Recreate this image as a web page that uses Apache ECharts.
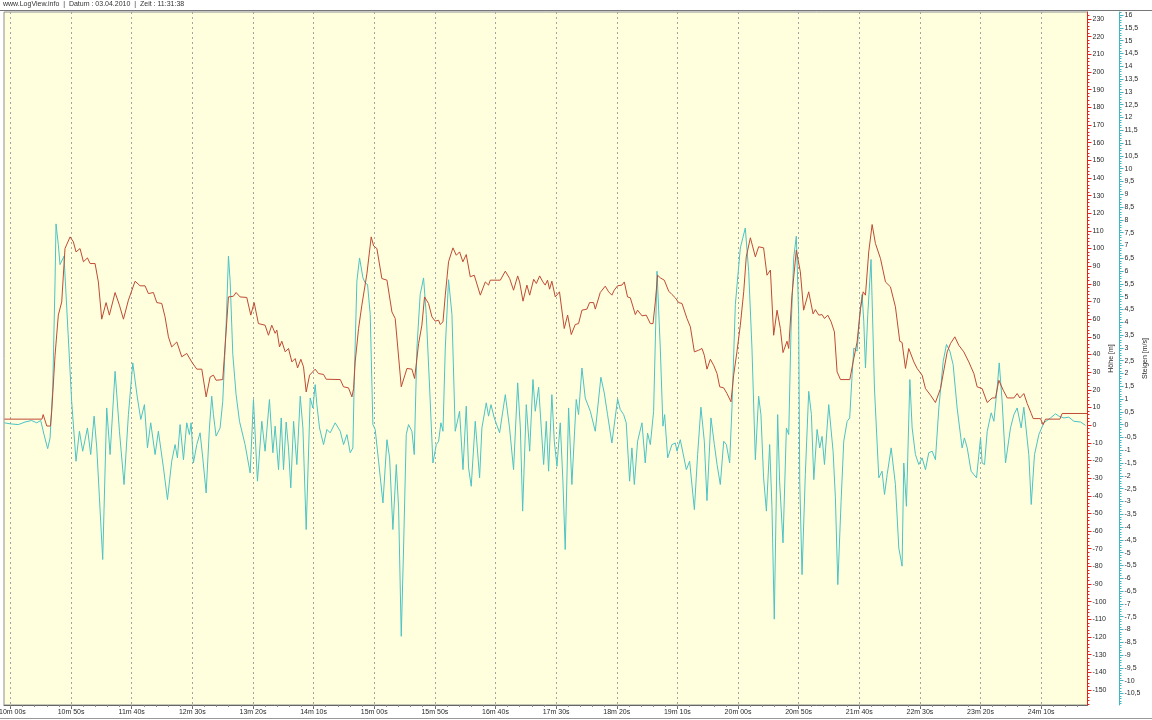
<!DOCTYPE html>
<html><head><meta charset="utf-8">
<script src="https://cdn.jsdelivr.net/npm/echarts@6/dist/echarts.min.js"></script>
<style>html,body{margin:0;padding:0;background:#fff}#c{width:1152px;height:720px}</style>
</head><body><div id="c"></div>
<script>
// ---- data (time in seconds) ----
const altTimes = [595,626,627,630,633,634,636.8,639.5,642.3,645,649.2,651.9,654.1,657.4,660.2,663.5,665.7,669.8,672.5,675.3,678.9,681.6,686.3,689.9,693.2,697.3,702.8,706.9,711,713.8,717.9,720.7,724.8,727.5,730.3,733,737.2,741.3,745.4,749.5,753.7,757.8,761.4,764.7,767.4,769.6,775.1,776.5,779.8,783.9,786.1,789.4,794.9,798.2,801,804.5,810,812.8,815.5,818.3,819.7,821.9,823.8,826.6,829.3,832.1,834.8,836.8,839.5,841.7,843.9,846.7,851.3,854.1,858.2,860.4,872,874.7,878.8,881.6,883,884.3,887.1,889.8,894,897.5,899.5,902.2,906.3,910.5,914.6,917.3,922.3,927,931.1,933.3,936.6,939.3,941.5,944.8,947.6,950.3,953.1,954.4,956.7,958.6,961.3,964.9,967.7,970.4,973.1,975.9,979.2,982.5,987.5,991.6,994.3,995.7,1004,1008.1,1011.7,1014.9,1018.3,1019.9,1022.7,1025.9,1028.2,1031.5,1033.7,1036.4,1039.1,1041,1042.9,1044.6,1046.5,1049.3,1052.8,1056.7,1059.5,1062.5,1065.8,1068.5,1071.3,1075.4,1077.6,1080.9,1082.3,1086.4,1090.5,1093.3,1096,1097.9,1100.7,1104.3,1106.2,1108.9,1111.2,1115.3,1117.2,1120.8,1124.3,1127.7,1129.9,1131.8,1133.7,1135.9,1139.2,1142.8,1145.5,1148.3,1151,1153.8,1157.9,1160.7,1164,1167.5,1170.3,1172.2,1174.4,1177.2,1179.9,1182.7,1184.9,1188.2,1190.9,1194.2,1196.4,1199.1,1201.9,1204.7,1206.8,1210.2,1214.3,1217,1221.1,1223.9,1226.7,1229.4,1232.2,1234.9,1237.1,1240.4,1241.8,1244.5,1248.1,1251.4,1254.1,1258.3,1261.9,1263.8,1266.6,1269.3,1271.3,1274,1276.8,1279.5,1281.7,1284.5,1292.2,1294.9,1298.2,1301,1303.2,1305.1,1307.8,1310.6,1313.3,1317.5,1321.6,1325.7,1329.8,1333.4,1335.3,1338.1,1340.8,1345,1347.7,1351.8,1354.6,1358.7,1362.8,1367,1372.5,1375.2,1378.8,1382,1386.2,1390.3,1394.5,1397.2,1401.3,1405.5,1409.6,1412.3,1415.1,1418.7,1422,1427.5,1430.2,1432.4,1435.7,1438.5,1441.8,1443.4,1449.4,1451.6,1453.6,1465.4,1467.3,1488];
const altValues = [3.4,3.4,6,-0.5,-0.5,7.5,39.6,62.3,69.8,100,106.6,103.8,98.1,100,92.5,94.7,91.5,91.5,81.1,60,69.4,62.3,75.1,67.9,60,70.8,81.5,78.9,78.9,74.5,75.1,69.4,68.9,61.3,50,44.3,47.1,38.7,40.6,35.8,31.7,31.7,16,27.3,28.3,25.4,25.8,39.6,72.6,73,75.1,72.6,72.3,62.3,69.4,57.5,56.6,50.9,56.6,52,53.8,44.3,47.5,41.5,43.4,35.8,37.7,32.4,37.3,33,18.8,28.3,31.7,29.2,28.7,26,25.8,21.7,21.1,16,20.7,35.8,54.7,67.9,85.9,106.6,101.5,100,83,82.1,64.1,60.4,21.7,32.1,31.7,26.4,46.2,56.6,72.6,68.9,61.3,58.9,59.4,57,58.5,73.6,92.5,100.4,96.2,98.1,92.5,96.6,84,84.9,73.6,81.1,79.3,82.1,82.1,87.2,83,76.4,84.5,81.1,70.2,79.3,73.6,82.6,80.2,84.5,81.1,79.3,82.1,77,81.5,72.6,75.5,54.7,62.3,51.3,57,57.5,65.1,65.7,69.4,69.4,65.7,75.1,78.7,75.5,73.6,76.4,78.9,79.3,81.1,72.6,72.1,62.6,65.1,61.9,62.3,57.5,57.5,69.8,84.9,83.4,82.1,75.9,74,72.1,69.4,68.9,60.4,55.7,41.5,42.4,43.4,39.6,31.7,37.3,33.9,29.2,21.7,21.1,17.9,13.2,28.3,41.5,56.6,75.5,95.3,106.1,95.3,101,100.4,84.9,87.8,50.9,65.1,54.7,41.1,47.5,43.4,73.6,99.1,86.8,65.1,75.5,63,65.4,62.3,62.6,60.4,62.3,58.5,52.8,30.2,25.8,25.8,35.8,47.1,66,75.5,73.6,98.1,113.6,102.9,94.3,81.1,78.3,67,47.5,46.8,32.1,43.4,35.8,32.1,28.3,20.7,17,12.8,20.7,41.5,46.2,50,45.3,41.5,35.8,29.2,21.7,20.7,12.8,15.4,15.4,25.4,19.8,15.4,15.4,17.9,15.4,17.9,12.2,6.6,3.7,3.7,0.3,3.4,3.4,6.6,6.6];

const climbTimes = [595,599.7,606.5,612,617.5,621.7,625,627.7,630.7,632.7,634.9,636.8,637.6,639.5,640.9,644.2,650.5,654.1,656.9,659.6,663.5,666.2,669,671.2,673.4,676.1,679.4,682.2,686.3,689.9,693.7,697.3,700.9,704.7,707.5,710.5,713,715.7,719.3,722,726.2,729.5,733,735.8,737.7,739.9,742.7,745.4,747.6,749,750.9,753.7,756.4,758.6,761.4,764.1,766,767.4,769.6,772.9,775.1,777.9,779.8,781.2,783.4,786.1,788.9,793.5,797.7,800.4,803.7,807.3,810,813.6,816.4,818.3,821.1,823.3,825.2,827.4,829.3,831.2,833.5,836.2,839,841.2,843.9,847.2,849.4,851.3,852.7,854.9,858.2,861,863.7,867.8,872,874.7,877.5,880.2,882.4,883.5,885.7,887.9,890.7,892.6,894.5,896.7,898.9,900.8,903.6,907.2,910.5,912.7,915.4,918.2,920.1,922.3,924.2,926.4,928.3,931.1,933,935.2,937.9,940.7,942.9,945.7,948.4,951.2,953.1,955,956.7,958.6,961.3,964.1,966.8,970.4,973.2,975.9,977.8,980,983.3,986.9,988.8,992.4,994.3,996.3,999,1003.4,1008.1,1011.6,1014.9,1018.3,1020.5,1022.4,1025.4,1028.2,1030.9,1032.8,1035.6,1039.7,1041.9,1043.8,1046.5,1048.5,1050.7,1053.4,1055.6,1057.5,1060.3,1063,1066.6,1068.5,1071.3,1074,1078.2,1082.3,1086.9,1089.7,1092.4,1096,1100.7,1102.9,1105.7,1107.8,1110.6,1112.5,1114.5,1117.2,1120.8,1123.5,1125.4,1127.7,1130.4,1133.2,1135.9,1138.1,1139.5,1142,1145.5,1148.3,1149.7,1152.4,1157.4,1160.1,1164,1166.7,1169.4,1172.2,1174.4,1177.7,1180.5,1182.7,1185.4,1188.2,1190.4,1193.1,1195,1197.8,1201.9,1206,1208.8,1211.5,1214.3,1217,1218.9,1221.1,1223.4,1226.1,1228,1229.9,1232.7,1234.3,1237.1,1239.9,1241.8,1243.7,1245.9,1248.1,1250,1250.9,1252.8,1255.5,1258.3,1260.5,1262.5,1265.2,1267.4,1269.3,1271.3,1274.8,1278.4,1280.3,1282.3,1285,1287.2,1290,1292.1,1294.1,1295.5,1298.2,1300.4,1302.3,1303.7,1305.1,1307,1309.7,1312.5,1316.1,1318.8,1320.8,1323,1326.3,1329.8,1332.6,1335.3,1336.7,1338.9,1341.7,1343.6,1346.3,1349.1,1351.8,1354.6,1357.3,1360.1,1362.8,1365.6,1369.2,1371.9,1374.7,1377.4,1380.7,1384.8,1386.7,1389,1392.2,1396.7,1400,1401.3,1403.3,1405.5,1408.8,1411,1413.7,1415.4,1417.8,1420.6,1424.7,1427.5,1430.2,1433.5,1435.7,1439.8,1441.8,1444.5,1448.1,1452.2,1457.7,1461.8,1464.6,1468.7,1472.8,1477,1482.5,1486.6];
const climbValues = [0.07,0.03,0,0.1,0.16,0.07,0.16,-0.39,-0.94,-0.52,1.43,5.6,7.84,7.03,6.25,6.58,0.91,-1.43,-0.26,-1.04,-0.13,-1.17,0.33,-0.91,-2.86,-5.27,0.65,-1.17,2.08,-0.26,-2.34,0.39,2.41,1.04,0.2,0.78,-0.91,0.07,-1.17,-0.26,-1.69,-2.93,-1.43,-0.78,-1.3,0,-1.37,0.07,-0.39,0.07,-1.5,-0.78,-0.32,-1.3,-2.67,-0.13,1.11,0.39,-0.45,-0.13,0.91,3.91,6.58,5.6,2.73,1.17,0.13,-0.78,-1.89,0.98,-2.21,0.13,-1.04,0.98,-1.1,-0.06,-1.76,0.26,-1.76,0.1,-0.91,-2.47,0.13,-1.56,1.11,-0.13,-4.1,1.04,0.65,1.56,0.78,-0.13,-0.78,-0.19,-0.32,0.07,-0.26,-0.78,-0.39,-1.1,-0.91,1.69,5.6,6.51,5.73,5.53,5.47,4.3,0,-0.19,-1.43,-3.06,-0.59,-1.3,-4.1,-1.56,-3.25,-8.27,-4.82,-0.39,0,-0.26,-1.17,2.99,5.08,5.73,4.3,1.43,-1.5,-0.78,-0.65,0.07,-0.26,2.99,5.66,4.3,-0.26,0.52,-1.76,0.72,-1.69,-2.41,0.13,-2.08,-0.13,0.85,0.33,0.78,0.26,-0.32,1.17,-0.13,-1.76,1.63,-0.13,-3.38,0.78,-1.04,1.76,0.52,1.46,-1.56,0.13,-1.82,1.17,-0.65,-1.63,0.07,-2.21,-4.88,0.65,-2.34,0.98,0.39,2.21,1.04,0.52,-0.26,1.85,1.24,0.39,-0.72,1.0,0.59,0.39,0.07,-2.21,-0.91,-2.34,-0.65,0.07,-1.5,-0.33,-0.78,0.52,5.99,2.99,-0.06,0.39,-1.3,-0.78,-0.72,-1.04,-0.59,-1.76,-1.43,-3.32,-1.17,0.68,-0.65,-2.97,0.26,-0.78,-1.56,-2.34,-0.65,-0.78,-1.5,0.65,4.69,6.9,7.68,5.99,2.99,-1.37,1.11,0.39,-2.08,-3.38,-0.78,-3.25,-7.6,0.39,-2.21,-4.62,-0.13,-0.39,3.65,6.51,7.36,4.3,-2.21,-5.86,-1.95,1.3,0.4,-2.15,-0.19,-0.91,-0.46,-1.56,0.78,-1.04,-2.86,-6.25,-3.0,-0.65,0.13,0.26,1.95,2.99,2.87,4.3,5.08,4.04,2.21,4.3,6.45,1.43,-2.08,-1.82,-2.73,-1.95,-0.91,-2.34,-4.82,-5.53,-1.5,-3.19,1.76,-0.13,-1.17,-1.56,-1.3,-1.76,-1.1,-1.04,-1.37,0.65,2.47,3.13,2.87,2.34,0.65,-0.91,-0.52,-0.91,-1.82,-2.08,-0.52,-1.5,-1.56,-0.26,0.46,0.13,1.43,2.41,0.91,-1.5,-0.13,0.39,0.65,-0.13,0.68,-1.17,-3.12,-1.17,-0.39,0.07,0.26,0.42,0.33,0.26,0.29,0.13,0.1,-0.03];

// ---- tick labels ----
const xTickValues = [600,650,700,750,800,850,900,950,1000,1050,1100,1150,1200,1250,1300,1350,1400,1450];
const xTickLabels = ['10m 00s','10m 50s','11m 40s','12m 30s','13m 20s','14m 10s','15m 00s','15m 50s','16m 40s','17m 30s','18m 20s','19m 10s','20m 00s','20m 50s','21m 40s','22m 30s','23m 20s','24m 10s'];
const altTickValues = [230,220,210,200,190,180,170,160,150,140,130,120,110,100,90,80,70,60,50,40,30,20,10,0,-10,-20,-30,-40,-50,-60,-70,-80,-90,-100,-110,-120,-130,-140,-150];
const altTickLabels = ['230','220','210','200','190','180','170','160','150','140','130','120','110','100','90','80','70','60','50','40','30','20','10','0','-10','-20','-30','-40','-50','-60','-70','-80','-90','-100','-110','-120','-130','-140','-150'];
const climbTickValues = [16,15.5,15,14.5,14,13.5,13,12.5,12,11.5,11,10.5,10,9.5,9,8.5,8,7.5,7,6.5,6,5.5,5,4.5,4,3.5,3,2.5,2,1.5,1,0.5,0,-0.5,-1,-1.5,-2,-2.5,-3,-3.5,-4,-4.5,-5,-5.5,-6,-6.5,-7,-7.5,-8,-8.5,-9,-9.5,-10,-10.5];
const climbTickLabels = ['16','15,5','15','14,5','14','13,5','13','12,5','12','11,5','11','10,5','10','9,5','9','8,5','8','7,5','7','6,5','6','5,5','5','4,5','4','3,5','3','2,5','2','1,5','1','0,5','0','-0,5','-1','-1,5','-2','-2,5','-3','-3,5','-4','-4,5','-5','-5,5','-6','-6,5','-7','-7,5','-8','-8,5','-9','-9,5','-10','-10,5'];

// minor tick positions (styling only)
const xMinor = []; for (let t = 600; t <= 1480; t += 10) xMinor.push(t);
const altMinor = []; for (let v = -158; v <= 232; v += 2) altMinor.push(v);
const climbMinor = []; for (let i = -109; i <= 161; i++) climbMinor.push(i / 10);

function lookup(vals, labels) {
  return function (v) {
    for (let i = 0; i < vals.length; i++) if (Math.abs(vals[i] - v) < 1e-6) return labels[i];
    return '';
  };
}
const xLabel = lookup(xTickValues, xTickLabels);

const FONT = 'Liberation Sans, Arial, sans-serif';
const FS = 7;
const RED = '#E4231B', CYAN = '#3FB8C2';
const X_MIN = 594.7, X_MAX = 1488.2;
const A_MIN = -158.49, A_MAX = 233.96;
const C_MIN = -10.953, C_MAX = 16.117;

const chart = echarts.init(document.getElementById('c'), null, {renderer: 'canvas'});
chart.setOption({
  animation: false,
  backgroundColor: '#ffffff',
  grid: {left: 4, right: 64.5, top: 12, bottom: 15, containLabel: false, outerBoundsMode: 'none',
    show: true, backgroundColor: '#FFFFDD', borderColor: '#8f8f8f', borderWidth: 1},
  xAxis: [
    {type: 'value', position: 'bottom', min: X_MIN, max: X_MAX,
      axisLine: {show: true, onZero: false, lineStyle: {color: '#666', width: 1}},
      axisTick: {show: true, length: 4, customValues: xTickValues, lineStyle: {color: '#666'}},
      axisLabel: {customValues: xTickValues,
        formatter: v => (Math.abs(v - xTickValues[0]) < 1e-6 ? '{f|' + xLabel(v) + '}' : xLabel(v)),
        rich: {f: {padding: [0, 0, 0, 4], fontSize: FS, fontFamily: FONT, color: '#2a2a2a'}},
        color: '#2a2a2a', fontSize: FS, fontFamily: FONT, margin: 4, hideOverlap: false},
      splitLine: {show: true, lineStyle: {color: '#a5a5a5', type: [2, 3], width: 1}}},
    {type: 'value', position: 'bottom', min: X_MIN, max: X_MAX,
      axisLine: {show: false, onZero: false},
      axisTick: {show: true, length: 2, customValues: xMinor, lineStyle: {color: '#888'}},
      axisLabel: {show: false}, splitLine: {show: false}}
  ],
  yAxis: [
    {type: 'value', position: 'right', offset: 0, min: A_MIN, max: A_MAX,
      axisLine: {show: true, onZero: false, lineStyle: {color: RED, width: 1}},
      axisTick: {show: true, inside: false, length: 4, customValues: altTickValues, lineStyle: {color: RED}},
      axisLabel: {customValues: altTickValues, formatter: lookup(altTickValues, altTickLabels), color: '#2a2a2a', fontSize: FS, fontFamily: FONT, margin: 5, hideOverlap: false},
      splitLine: {show: false},
      name: 'Höhe [m]', nameLocation: 'middle', nameRotate: 90, nameGap: 20, nameMoveOverlap: false,
      nameTextStyle: {color: '#2a2a2a', fontSize: FS, fontFamily: FONT}},
    {type: 'value', position: 'right', offset: 32, min: C_MIN, max: C_MAX,
      axisLine: {show: true, onZero: false, lineStyle: {color: CYAN, width: 1}},
      axisTick: {show: true, inside: false, length: 4, customValues: climbTickValues, lineStyle: {color: CYAN}},
      axisLabel: {customValues: climbTickValues, formatter: lookup(climbTickValues, climbTickLabels), color: '#2a2a2a', fontSize: FS, fontFamily: FONT, margin: 5, hideOverlap: false},
      splitLine: {show: false},
      name: 'Steigen [m/s]', nameLocation: 'middle', nameRotate: 90, nameGap: 22, nameMoveOverlap: false,
      nameTextStyle: {color: '#2a2a2a', fontSize: FS, fontFamily: FONT}},
    {type: 'value', position: 'right', offset: 0, min: A_MIN, max: A_MAX,
      axisLine: {show: false, onZero: false},
      axisTick: {show: true, inside: false, length: 2, customValues: altMinor, lineStyle: {color: RED}},
      axisLabel: {show: false}, splitLine: {show: false}},
    {type: 'value', position: 'right', offset: 32, min: C_MIN, max: C_MAX,
      axisLine: {show: false, onZero: false},
      axisTick: {show: true, inside: false, length: 2, customValues: climbMinor, lineStyle: {color: CYAN}},
      axisLabel: {show: false}, splitLine: {show: false}}
  ],
  series: [
    {name: 'Steigen', type: 'line', xAxisIndex: 0, yAxisIndex: 1, symbol: 'none', z: 2,
      lineStyle: {color: '#4CC3C6', width: 1}, data: climbTimes.map((t, i) => [t, climbValues[i]])},
    {name: 'Höhe', type: 'line', xAxisIndex: 0, yAxisIndex: 0, symbol: 'none', z: 3,
      lineStyle: {color: '#BF4A35', width: 1}, data: altTimes.map((t, i) => [t, altValues[i]])}
  ],
  graphic: [
    {type: 'text', left: 3, top: 1, style: {text: 'www.LogView.info  |  Datum : 03.04.2010  |  Zeit : 11:31:38', fill: '#333', font: '7px ' + FONT}},
    {type: 'line', shape: {x1: 0, y1: 10.5, x2: 1152, y2: 10.5}, style: {stroke: '#777', lineWidth: 1}},
    {type: 'line', shape: {x1: 0, y1: 718.5, x2: 1152, y2: 718.5}, style: {stroke: '#999', lineWidth: 1}}
  ]
});
</script></body></html>
